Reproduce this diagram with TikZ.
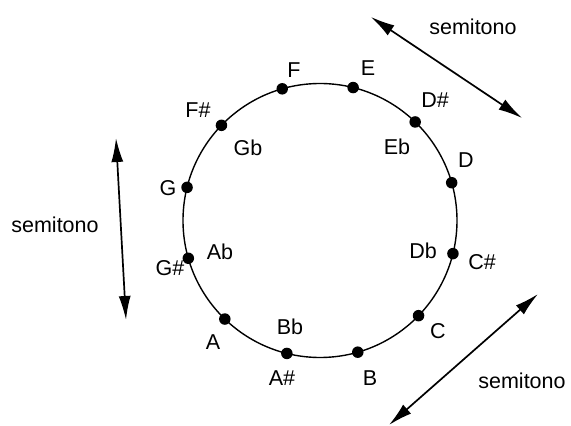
\documentclass[tikz,border=0pt]{standalone}
\usepackage{fontspec}
\setmainfont{Liberation Sans}
\usetikzlibrary{arrows.meta}
\begin{document}
\begin{tikzpicture}[x=1pt,y=1pt,
  dot/.style={circle,fill=black,inner sep=0pt,minimum size=11.5pt},
  lab/.style={inner sep=0pt,font=\fontsize{21.5}{25}\selectfont},
  semi/.style={line width=1.7pt,{Latex[length=24pt,width=12pt]}-{Latex[length=24pt,width=12pt]}}]
\useasboundingbox (0,0) rectangle (571,426);
\coordinate (ctr) at (320,205.5);
\draw[line width=1.4pt] (ctr) circle[radius=137];
\begin{scope}[shift={(320,205.5)}]
\node[dot] (dF) at (106:137) {};
\node[dot] (dE) at (76:137) {};
\node[dot] (dDs) at (46:137) {};
\node[dot] (dD) at (16:137) {};
\node[dot] (dCs) at (-14:137) {};
\node[dot] (dC) at (-44:137) {};
\node[dot] (dB) at (-74:137) {};
\node[dot] (dAs) at (-104:137) {};
\node[dot] (dA) at (-134:137) {};
\node[dot] (dGs) at (-164:137) {};
\node[dot] (dG) at (166:137) {};
\node[dot] (dFs) at (136:137) {};
\end{scope}
\node[lab] (lF) at (294,356) {F};
\node[lab] (lE) at (368,358) {E};
\node[lab] (lDs) at (435,326) {D\#};
\node[lab] (lEb) at (397,279) {Eb};
\node[lab] (lD) at (466,266) {D};
\node[lab] (lDb) at (423,175) {Db};
\node[lab] (lCs) at (482,164) {C\#};
\node[lab] (lC) at (438,95) {C};
\node[lab] (lB) at (370,48) {B};
\node[lab] (lBb) at (290,99) {Bb};
\node[lab] (lAs) at (282,48) {A\#};
\node[lab] (lA) at (213,84) {A};
\node[lab] (lAb) at (220,174) {Ab};
\node[lab] (lGs) at (170,158) {G\#};
\node[lab] (lG) at (168,238) {G};
\node[lab] (lGb) at (248,278) {Gb};
\node[lab] (lFs) at (198,316) {F\#};
\node[lab] (s1) at (473,399) {semitono};
\node[lab] (s2) at (55,201) {semitono};
\node[lab] (s3) at (522,45) {semitono};
\coordinate (a1) at (371,409);
\coordinate (b1) at (522,308);
\coordinate (a2) at (116,288);
\coordinate (b2) at (126,106);
\coordinate (a3) at (389,1);
\coordinate (b3) at (538,132);
\draw[semi] (a1) -- (b1);
\draw[semi] (a2) -- (b2);
\draw[semi] (a3) -- (b3);
\end{tikzpicture}
\end{document}
